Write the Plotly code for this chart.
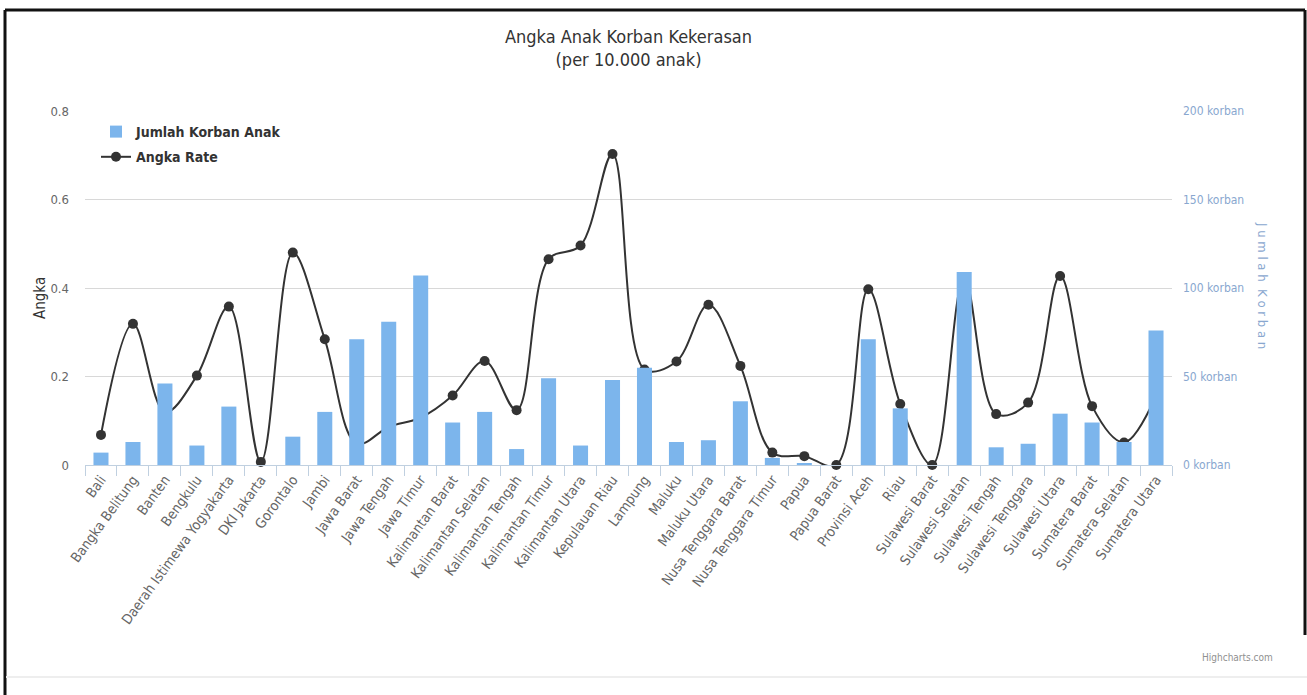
import plotly.graph_objects as go

# Provinces (x categories)
provinsi = [
    "Bali", "Bangka Belitung", "Banten", "Bengkulu", "Daerah Istimewa Yogyakarta",
    "DKI Jakarta", "Gorontalo", "Jambi", "Jawa Barat", "Jawa Tengah", "Jawa Timur",
    "Kalimantan Barat", "Kalimantan Selatan", "Kalimantan Tengah", "Kalimantan Timur",
    "Kalimantan Utara", "Kepulauan Riau", "Lampung", "Maluku", "Maluku Utara",
    "Nusa Tenggara Barat", "Nusa Tenggara Timur", "Papua", "Papua Barat",
    "Provinsi Aceh", "Riau", "Sulawesi Barat", "Sulawesi Selatan", "Sulawesi Tengah",
    "Sulawesi Tenggara", "Sulawesi Utara", "Sumatera Barat", "Sumatera Selatan",
    "Sumatera Utara",
]

# Number of child victims (right axis)
jumlah_korban = [
    7, 13, 46, 11, 33, 0, 16, 30, 71, 81, 107,
    24, 30, 9, 49, 11, 48, 55, 13, 14,
    36, 4, 1, 0, 71, 32, 0, 109, 10,
    12, 29, 24, 13, 76,
]

# Rate per 10.000 children (left axis)
angka_rate = [
    0.068, 0.319, 0.119, 0.202, 0.358, 0.007, 0.480, 0.284, 0.048, 0.086, 0.107,
    0.157, 0.235, 0.124, 0.465, 0.496, 0.703, 0.216, 0.234, 0.362,
    0.224, 0.028, 0.020, 0.0, 0.397, 0.138, 0.0, 0.422, 0.115,
    0.141, 0.427, 0.133, 0.051, 0.156,
]

angka_ticks = [0, 0.2, 0.4, 0.6, 0.8]
korban_ticks = [0, 50, 100, 150, 200]

FONT = "DejaVu Sans Condensed, Liberation Sans Narrow, Open Sans, sans-serif"
BLUE = "#7cb5ec"
DARK = "#333333"

W, H = 1307, 695
L, R, T, B = 85, 135, 111, 230
PW, PH = W - L - R, H - T - B


def px(x):
    return (x - L) / PW


def py(y):
    return (H - B - y) / PH


fig = go.Figure()

fig.add_trace(go.Bar(
    x=provinsi, y=jumlah_korban, name="Jumlah Korban Anak",
    marker=dict(color=BLUE, line=dict(width=0)),
    yaxis="y2", legendgroup="a",
))

fig.add_trace(go.Scatter(
    x=provinsi, y=angka_rate, name="Angka Rate",
    mode="lines+markers",
    line=dict(color=DARK, width=2, shape="spline", smoothing=1.0),
    marker=dict(color=DARK, size=10, symbol="circle"),
    cliponaxis=False,
    yaxis="y", legendgroup="b",
))

fig.update_layout(
    width=W, height=H,
    margin=dict(l=L, r=R, t=T, b=B),
    paper_bgcolor="white", plot_bgcolor="white",
    font=dict(family=FONT, color="#666666", size=12),
    bargap=0.53,
    showlegend=True,
    legend=dict(
        x=px(96), y=py(116), xanchor="left", yanchor="top",
        bgcolor="rgba(255,255,255,0)",
        font=dict(family=FONT, size=14, color=DARK, weight="bold"),
        traceorder="grouped", tracegroupgap=4,
    ),
    xaxis=dict(
        type="category", range=[-0.5, len(provinsi) - 0.5],
        tickangle=-54, tickson="boundaries",
        ticks="outside", ticklen=10, tickcolor="#c0d0e0",
        showline=True, linecolor="#c0d0e0", linewidth=1,
        showgrid=False, tickfont=dict(size=14, color="#666666"),
    ),
    yaxis=dict(
        range=[0, 0.8], tickvals=angka_ticks,
        showgrid=True, gridcolor="#d8d8d8", gridwidth=1,
        zeroline=False, showline=False, ticks="",
        tickfont=dict(size=13, color="#666666"), ticklabelstandoff=15,
    ),
    yaxis2=dict(
        range=[0, 200], tickvals=korban_ticks,
        ticktext=[f"{v} korban" for v in korban_ticks],
        overlaying="y", side="right", showgrid=False, zeroline=False,
        tickfont=dict(size=12, color="#89a7cf"), ticklabelstandoff=10,
    ),
    annotations=[
        dict(text="Angka Anak Korban Kekerasan<br>(per 10.000 anak)",
             xref="paper", yref="paper", x=px(628), y=py(48),
             xanchor="center", yanchor="middle", showarrow=False,
             font=dict(family=FONT, size=18, color=DARK)),
        dict(text="Angka", xref="paper", yref="paper", x=px(40), y=py(298),
             xanchor="center", yanchor="middle", showarrow=False, textangle=-90,
             font=dict(family=FONT, size=15, color=DARK)),
        dict(text="J u m l a h  K o r b a n", xref="paper", yref="paper",
             x=px(1263), y=py(285), xanchor="center", yanchor="middle",
             showarrow=False, textangle=90,
             font=dict(family=FONT, size=13, color="#89a7cf")),
        dict(text="Highcharts.com", xref="paper", yref="paper",
             x=px(1275), y=py(657), xanchor="right", yanchor="middle",
             showarrow=False,
             font=dict(family=FONT, size=10, color="#909090")),
    ],
    shapes=[
        # outer frame
        dict(type="line", xref="paper", yref="paper", x0=px(5), x1=px(1305),
             y0=py(10), y1=py(10), line=dict(color="#111111", width=3)),
        dict(type="line", xref="paper", yref="paper", x0=px(5), x1=px(5),
             y0=py(10), y1=py(695), line=dict(color="#111111", width=3)),
        dict(type="line", xref="paper", yref="paper", x0=px(1305), x1=px(1305),
             y0=py(10), y1=py(635), line=dict(color="#111111", width=3)),
        dict(type="line", xref="paper", yref="paper", x0=px(6), x1=px(1307),
             y0=py(677), y1=py(677), line=dict(color="#eeeeee", width=2)),
    ],
)

fig.write_html("out.html")
